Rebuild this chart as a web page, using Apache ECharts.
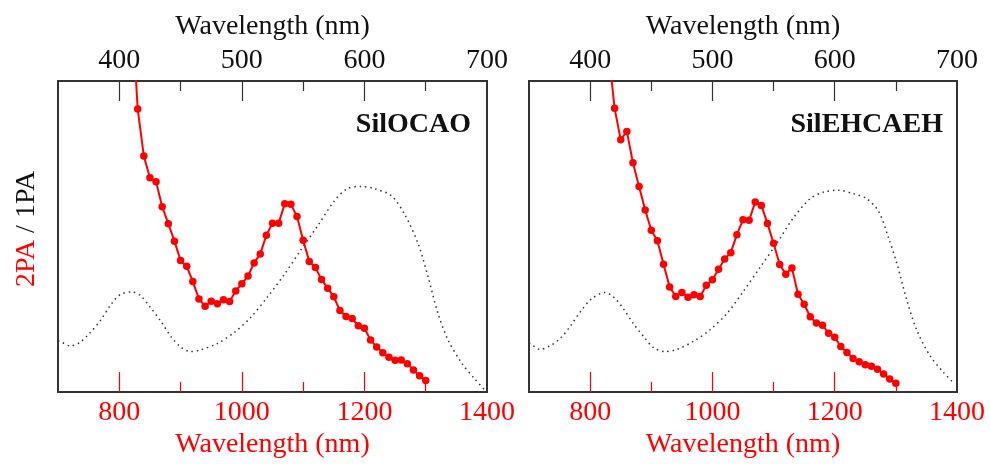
<!DOCTYPE html>
<html>
<head>
<meta charset="utf-8">
<title></title>
<style type="text/css">
  html, body { margin: 0; padding: 0; background: #fff; }
  #main { width: 990px; height: 464px; }
</style>
</head>
<body>
<div id="main"></div>
<script src="https://cdn.jsdelivr.net/npm/echarts@6/dist/echarts.min.js"></script>
<script type="text/javascript">
// 2PA wavelengths (nm) and 2PA values, SilOCAO
var wl2A = [820, 830, 840, 850, 860, 870, 880, 890, 900, 910, 920, 930, 940, 950, 960, 970, 980, 990,
  1000, 1010, 1020, 1030, 1040, 1050, 1060, 1070, 1080, 1090, 1100, 1110, 1120, 1130, 1140, 1150,
  1160, 1170, 1180, 1190, 1200, 1210, 1220, 1230, 1240, 1250, 1260, 1270, 1280, 1290, 1300];
var tpaA = [1.25, 0.910, 0.759, 0.689, 0.676, 0.596, 0.541, 0.485, 0.423, 0.404, 0.355, 0.299, 0.276,
  0.292, 0.284, 0.297, 0.291, 0.325, 0.348, 0.373, 0.415, 0.444, 0.504, 0.543, 0.543, 0.605, 0.604,
  0.564, 0.488, 0.420, 0.400, 0.362, 0.334, 0.306, 0.262, 0.243, 0.236, 0.213, 0.205, 0.167, 0.145,
  0.126, 0.112, 0.102, 0.103, 0.091, 0.071, 0.052, 0.037];

// 2PA, SilEHCAEH
var wl2B = [830, 840, 850, 860, 870, 880, 890, 900, 910, 920, 930, 940, 950, 960, 970, 980, 990,
  1000, 1010, 1020, 1030, 1040, 1050, 1060, 1070, 1080, 1090, 1100, 1110, 1120, 1130, 1140, 1150,
  1160, 1170, 1180, 1190, 1200, 1210, 1220, 1230, 1240, 1250, 1260, 1270, 1280, 1290, 1300];
var tpaB = [1.10, 0.912, 0.811, 0.838, 0.737, 0.661, 0.585, 0.520, 0.486, 0.411, 0.338, 0.307, 0.320,
  0.305, 0.313, 0.307, 0.343, 0.361, 0.395, 0.428, 0.448, 0.506, 0.554, 0.552, 0.611, 0.600, 0.542,
  0.478, 0.410, 0.379, 0.399, 0.314, 0.282, 0.242, 0.222, 0.215, 0.189, 0.176, 0.146, 0.127, 0.108,
  0.097, 0.088, 0.083, 0.073, 0.058, 0.042, 0.028];

// 1PA wavelengths (nm, top axis) and 1PA absorbance
var wl1A = [350, 353, 360, 368, 376, 385, 393, 401, 410, 417, 425, 434, 442, 450, 458, 466, 480, 494,
  507, 521, 535, 548, 562, 575, 586, 597, 608, 622, 633, 644, 652, 660, 668, 679, 690, 698];
var opaA = [0.165, 0.160, 0.148, 0.160, 0.190, 0.232, 0.280, 0.314, 0.322, 0.311, 0.274, 0.227, 0.179,
  0.145, 0.130, 0.135, 0.156, 0.192, 0.239, 0.306, 0.380, 0.456, 0.535, 0.612, 0.654, 0.661, 0.654,
  0.631, 0.570, 0.475, 0.369, 0.253, 0.169, 0.095, 0.042, 0.007];

var wl1B = [350, 351, 359, 367, 376, 384, 392, 401, 412, 419, 427, 435, 444, 452, 461, 471, 485, 498,
  512, 525, 539, 553, 566, 580, 591, 603, 615, 626, 636, 644, 651, 659, 667, 678, 689, 697];
var opaB = [0.158, 0.156, 0.137, 0.148, 0.174, 0.213, 0.258, 0.299, 0.320, 0.306, 0.269, 0.222, 0.177,
  0.142, 0.130, 0.137, 0.164, 0.200, 0.253, 0.322, 0.401, 0.480, 0.559, 0.622, 0.643, 0.649, 0.638,
  0.622, 0.580, 0.496, 0.411, 0.295, 0.200, 0.116, 0.063, 0.030];

var bottomMajor = [800, 1000, 1200];
var bottomMinor = [900, 1100, 1300];
var bottomLabels = [800, 1000, 1200, 1400];
var topMajor = [400, 500, 600];
var topMinor = [450, 550, 650];
var topLabels = [400, 500, 600, 700];
var panelNames = ['SilOCAO', 'SilEHCAEH'];

var font = '"Liberation Serif", "Times New Roman", serif';
var red = '#ff0000';

function pairs(xs, ys) {
  var out = [];
  for (var i = 0; i < xs.length; i++) out.push([xs[i], ys[i]]);
  return out;
}

function plain(v) { return String(v); }

function xAxes(g) {
  var list = [];
  // bottom (2PA), major ticks + labels
  list.push({
    gridIndex: g, type: 'value', position: 'bottom', min: 700, max: 1400,
    name: 'Wavelength (nm)', nameLocation: 'middle', nameGap: 39, nameMoveOverlap: false,
    nameTextStyle: { color: red, fontFamily: font, fontSize: 28 },
    axisLine: { show: false }, splitLine: { show: false },
    axisTick: { inside: true, length: 20, customValues: bottomMajor, lineStyle: { color: red, width: 1.2 } },
    axisLabel: { customValues: bottomLabels, formatter: plain, margin: 7, color: red, fontFamily: font, fontSize: 28 }
  });
  // bottom minor ticks
  list.push({
    gridIndex: g, type: 'value', position: 'bottom', min: 700, max: 1400,
    axisLine: { show: false }, splitLine: { show: false }, axisLabel: { show: false },
    axisTick: { inside: true, length: 10, customValues: bottomMinor, lineStyle: { color: red, width: 1.2 } }
  });
  // top (1PA)
  list.push({
    gridIndex: g, type: 'value', position: 'top', min: 350, max: 700,
    name: 'Wavelength (nm)', nameLocation: 'middle', nameGap: 40, nameMoveOverlap: false,
    nameTextStyle: { color: '#111', fontFamily: font, fontSize: 28 },
    axisLine: { show: false }, splitLine: { show: false },
    axisTick: { inside: true, length: 20, customValues: topMajor, lineStyle: { color: '#333', width: 1.2 } },
    axisLabel: { customValues: topLabels, formatter: plain, margin: 6, color: '#111', fontFamily: font, fontSize: 28 }
  });
  list.push({
    gridIndex: g, type: 'value', position: 'top', min: 350, max: 700,
    axisLine: { show: false }, splitLine: { show: false }, axisLabel: { show: false },
    axisTick: { inside: true, length: 10, customValues: topMinor, lineStyle: { color: '#333', width: 1.2 } }
  });
  return list;
}

var chart = echarts.init(document.getElementById('main'));

var option = {
  animation: false,
  backgroundColor: '#fff',
  grid: [
    { left: 58, right: 503, top: 81, bottom: 67, show: true, borderColor: '#333', borderWidth: 2 },
    { left: 529, right: 33, top: 81, bottom: 67, show: true, borderColor: '#333', borderWidth: 2 }
  ],
  xAxis: xAxes(0).concat(xAxes(1)),
  yAxis: [
    { gridIndex: 0, type: 'value', min: 0, max: 1, axisLine: { show: false }, axisTick: { show: false },
      axisLabel: { show: false }, splitLine: { show: false } },
    { gridIndex: 1, type: 'value', min: 0, max: 1, axisLine: { show: false }, axisTick: { show: false },
      axisLabel: { show: false }, splitLine: { show: false } }
  ],
  series: [
    { type: 'line', xAxisIndex: 2, yAxisIndex: 0, data: pairs(wl1A, opaA), smooth: 0.3, symbol: 'none',
      lineStyle: { color: '#333', width: 1.5, type: [1.5, 3.8] } },
    { type: 'line', xAxisIndex: 0, yAxisIndex: 0, data: pairs(wl2A, tpaA), symbol: 'circle', symbolSize: 7.5,
      itemStyle: { color: red }, lineStyle: { color: red, width: 2 } },
    { type: 'line', xAxisIndex: 6, yAxisIndex: 1, data: pairs(wl1B, opaB), smooth: 0.3, symbol: 'none',
      lineStyle: { color: '#333', width: 1.5, type: [1.5, 3.8] } },
    { type: 'line', xAxisIndex: 4, yAxisIndex: 1, data: pairs(wl2B, tpaB), symbol: 'circle', symbolSize: 7.5,
      itemStyle: { color: red }, lineStyle: { color: red, width: 2 } }
  ],
  graphic: [
    { type: 'text', x: 27, y: 229, rotation: Math.PI / 2,
      style: { text: '{r|2PA} / 1PA', x: 0, y: 0, align: 'center', verticalAlign: 'middle',
        fill: '#111', font: '28px ' + font, rich: { r: { fill: red, font: '28px ' + font } } } },
    { type: 'text', x: 471, y: 125,
      style: { text: panelNames[0], align: 'right', verticalAlign: 'middle', fill: '#111',
        font: 'bold 28px ' + font } },
    { type: 'text', x: 943, y: 125,
      style: { text: panelNames[1], align: 'right', verticalAlign: 'middle', fill: '#111',
        font: 'bold 28px ' + font } }
  ]
};

chart.setOption(option);
</script>
</body>
</html>
